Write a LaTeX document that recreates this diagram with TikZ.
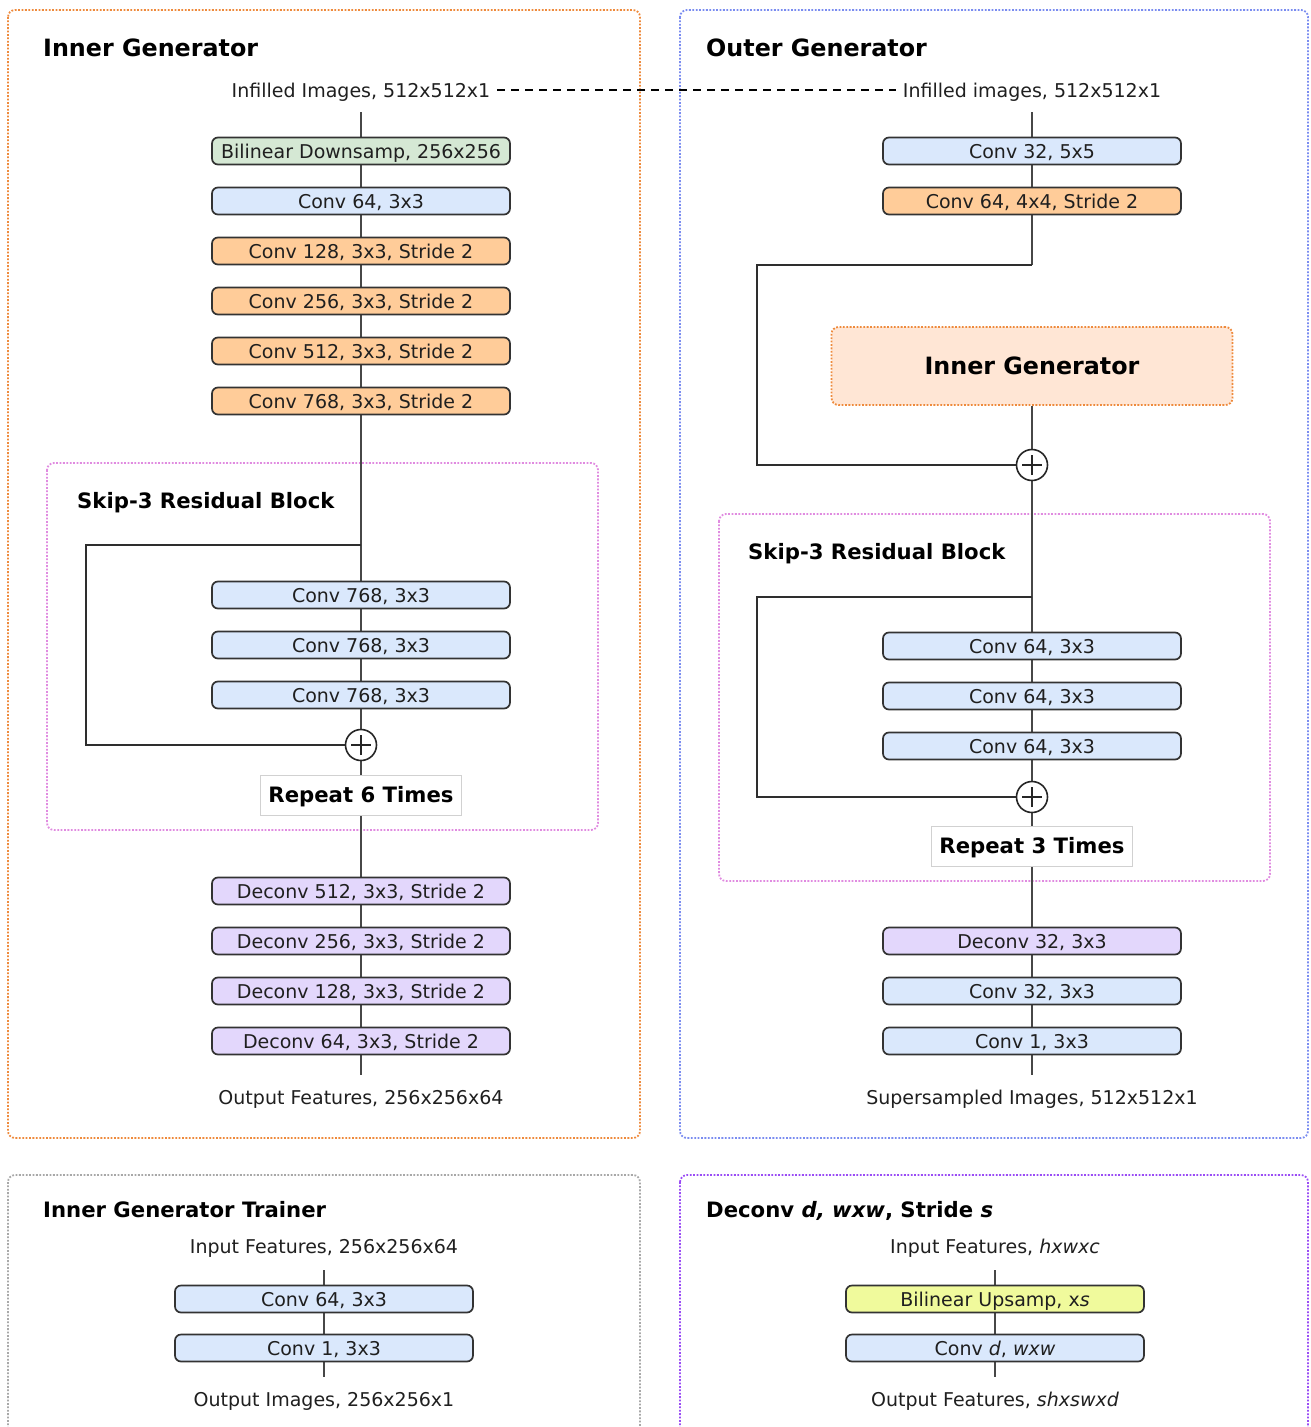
\documentclass[tikz,border=0pt]{standalone}
\usepackage{fontspec}
\setmainfont{DejaVu Sans}
\usepackage{tikz}
\usetikzlibrary{calc}
\usetikzlibrary{shapes}
\definecolor{convblue}{HTML}{DAE8FC}
\definecolor{strideorange}{HTML}{FFCC99}
\definecolor{downgreen}{HTML}{D5E8D4}
\definecolor{deconvpurple}{HTML}{E3D7FC}
\definecolor{upyellow}{HTML}{F0FA9C}
\definecolor{innerpeach}{HTML}{FFE6D5}
\definecolor{frameorange}{HTML}{EE8A3C}
\definecolor{frameblue}{HTML}{7A8CF0}
\definecolor{framepink}{HTML}{E08BE0}
\definecolor{framegray}{HTML}{A8A8A8}
\definecolor{framepurple}{HTML}{9A4CF5}
\pgfdeclarelayer{frames}
\pgfdeclarelayer{wires}
\pgfsetlayers{frames,wires,main}
\newcommand{\txtsize}{\fontsize{19}{23}\selectfont}
\newcommand{\subsize}{\fontsize{21.2}{25}\selectfont}
\newcommand{\titlesize}{\fontsize{23.8}{28}\selectfont}
\tikzset{
  unit/.style={draw=black!80, line width=1.7pt, rounded corners=6pt,
    minimum width=298pt, minimum height=27pt, inner sep=0pt,
    text height=14pt, text depth=0pt,
    font=\txtsize, text=black!88},
  conv/.style={unit, fill=convblue},
  strided/.style={unit, fill=strideorange},
  deconv/.style={unit, fill=deconvpurple},
  downsamp/.style={unit, fill=downgreen},
  upsamp/.style={unit, fill=upyellow},
  io/.style={font=\txtsize, text=black!88, inner xsep=7pt, inner ysep=0pt,
    text height=14pt, text depth=0pt, outer ysep=15pt},
  title/.style={font=\titlesize\bfseries, anchor=west, inner sep=0pt,
    text height=17pt, text depth=0pt},
  subtitle/.style={font=\subsize\bfseries, anchor=west, inner sep=0pt,
    text height=15.3pt, text depth=0pt},
  panel/.style={line width=1.8pt, dash pattern=on 1.8pt off 1.6pt,
    rounded corners=7pt},
  wire/.style={draw=black!72, line width=2pt},
  skip/.style={draw=black!82, line width=2pt},
  guide/.style={draw=black, line width=1.3pt, dash pattern=on 8pt off 6pt},
  sum/.style={circle, draw=black!85, line width=1.6pt, fill=white,
    minimum size=31pt, inner sep=0pt,
    path picture={
      \draw[line width=2pt, black!85]
        ([xshift=-10pt]path picture bounding box.center)
          -- ([xshift=10pt]path picture bounding box.center)
        ([yshift=-10pt]path picture bounding box.center)
          -- ([yshift=10pt]path picture bounding box.center);
    }},
  repeatbox/.style={draw=black!18, line width=0.8pt, fill=white,
    minimum width=201pt, minimum height=40pt, inner sep=0pt,
    text height=15.3pt, text depth=0pt, font=\subsize\bfseries},
  innergen/.style={draw=frameorange, panel, fill=innerpeach,
    minimum width=401pt, minimum height=78pt, inner sep=0pt,
    text height=17pt, text depth=0pt, font=\titlesize\bfseries}
}

\begin{document}
\begin{tikzpicture}[x=1pt,y=-1pt]
    \useasboundingbox (0,0) rectangle (1310,1427);
    % Panels
    \begin{pgfonlayer}{frames}
    \draw[panel,frameorange] (8,10) rectangle (640,1138);
    \draw[panel,frameblue] (680,10) rectangle (1308,1138);
    \draw[panel,framegray] (8,1175) rectangle (640,1450);
    \draw[panel,framepurple] (680,1175) rectangle (1308,1450);
    \draw[panel,framepink] (47,463) rectangle (598,830);
    \draw[panel,framepink] (719,514) rectangle (1270,881);
    \end{pgfonlayer}
    \node[title] (tInner) at (43,48) {Inner Generator};
    \node[title] (tOuter) at (706,48) {Outer Generator};
    \node[subtitle] (tTrainer) at (43,1210) {Inner Generator Trainer};
    \node[subtitle] (tDeconv) at (706,1210) {Deconv \textit{d, wxw}, Stride \textit{s}};
    \node[subtitle] (tSkipL) at (77,501) {Skip-3 Residual Block};
    \node[subtitle] (tSkipR) at (748,552) {Skip-3 Residual Block};
    % Inner generator
    \node[io] (inL) at (361,90) {Infilled Images, 512x512x1};
    \node[downsamp] (L1) at (361,151) {Bilinear Downsamp, 256x256};
    \node[conv] (L2) at (361,201) {Conv 64, 3x3};
    \node[strided] (L3) at (361,251) {Conv 128, 3x3, Stride 2};
    \node[strided] (L4) at (361,301) {Conv 256, 3x3, Stride 2};
    \node[strided] (L5) at (361,351) {Conv 512, 3x3, Stride 2};
    \node[strided] (L6) at (361,401) {Conv 768, 3x3, Stride 2};
    \coordinate (skL) at (361,545);
    \node[conv] (L7) at (361,595) {Conv 768, 3x3};
    \node[conv] (L8) at (361,645) {Conv 768, 3x3};
    \node[conv] (L9) at (361,695) {Conv 768, 3x3};
    \node[sum] (sumL) at (361,745) {};
    \node[repeatbox] (repL) at (361,795) {Repeat 6 Times};
    \node[deconv] (L10) at (361,891) {Deconv 512, 3x3, Stride 2};
    \node[deconv] (L11) at (361,941) {Deconv 256, 3x3, Stride 2};
    \node[deconv] (L12) at (361,991) {Deconv 128, 3x3, Stride 2};
    \node[deconv] (L13) at (361,1041) {Deconv 64, 3x3, Stride 2};
    \node[io] (outL) at (361,1097) {Output Features, 256x256x64};
    % Outer generator
    \node[io] (inR) at (1032,90) {Infilled images, 512x512x1};
    \node[conv] (R1) at (1032,151) {Conv 32, 5x5};
    \node[strided] (R2) at (1032,201) {Conv 64, 4x4, Stride 2};
    \coordinate (skR1) at (1032,265);
    \node[innergen] (IG) at (1032,366) {Inner Generator};
    \node[sum] (sumR1) at (1032,465) {};
    \coordinate (skR2) at (1032,597);
    \node[conv] (R3) at (1032,646) {Conv 64, 3x3};
    \node[conv] (R4) at (1032,696) {Conv 64, 3x3};
    \node[conv] (R5) at (1032,746) {Conv 64, 3x3};
    \node[sum] (sumR2) at (1032,797) {};
    \node[repeatbox] (repR) at (1032,846) {Repeat 3 Times};
    \node[deconv] (R6) at (1032,941) {Deconv 32, 3x3};
    \node[conv] (R7) at (1032,991) {Conv 32, 3x3};
    \node[conv] (R8) at (1032,1041) {Conv 1, 3x3};
    \node[io] (outR) at (1032,1097) {Supersampled Images, 512x512x1};
    % Trainer
    \node[io, outer ysep=17pt] (inT) at (324,1246) {Input Features, 256x256x64};
    \node[conv] (T1) at (324,1299) {Conv 64, 3x3};
    \node[conv] (T2) at (324,1348) {Conv 1, 3x3};
    \node[io] (outT) at (324,1399) {Output Images, 256x256x1};
    % Deconv legend
    \node[io, outer ysep=17pt] (inD) at (995,1246) {Input Features, \textit{hxwxc}};
    \node[upsamp] (D1) at (995,1299) {Bilinear Upsamp, x\textit{s}};
    \node[conv] (D2) at (995,1348) {Conv \textit{d}, \textit{wxw}};
    \node[io] (outD) at (995,1399) {Output Features, \textit{shxswxd}};
    % Wires
    \begin{pgfonlayer}{wires}
    \draw[wire] (inL) -- (outL);
    \draw[skip] (skL) -- ++(-275,0) |- (sumL);
    \draw[wire] (inR) -- (skR1);
    \draw[skip] (skR1) -- ++(-275,0) |- (sumR1);
    \draw[wire] (IG) -- (sumR1);
    \draw[wire] (sumR1) -- (outR);
    \draw[skip] (skR2) -- ++(-275,0) |- (sumR2);
    \draw[wire] (inT) -- (outT);
    \draw[wire] (inD) -- (outD);
    \end{pgfonlayer}
    \draw[guide] (inL) -- (inR);
\end{tikzpicture}
\end{document}
